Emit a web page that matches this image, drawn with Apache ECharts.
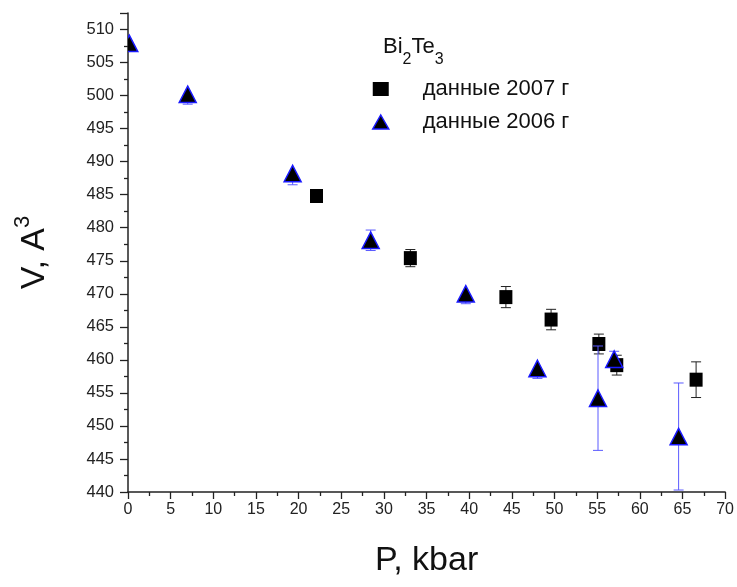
<!DOCTYPE html>
<html>
<head>
<meta charset="utf-8">
<script src="https://cdn.jsdelivr.net/npm/echarts@6/dist/echarts.min.js"></script>
<style>html,body{margin:0;padding:0;background:#fff;}#c{width:737px;height:587px;}</style>
</head>
<body>
<div id="c"></div>
<script>
// ---- data ----
const pressure2007 = [22.1, 33.1, 44.3, 49.6, 55.2, 57.3, 66.6];
const volume2007   = [484.8, 475.4, 469.5, 466.1, 462.4, 459.2, 457.0];
const error2007    = [0.0, 1.3, 1.6, 1.55, 1.5, 1.5, 2.7];

const pressure2006 = [0.15, 7.0, 19.3, 28.45, 39.6, 48.0, 55.1, 57.0, 64.55];
const volume2006   = [507.9, 500.2, 488.2, 478.1, 470.0, 458.7, 454.2, 460.1, 448.4];
const errLow2006   = [1.2, 1.5, 1.7, 1.55, 1.5, 1.5, 7.9, 1.2, 8.1];
const errHigh2006  = [0.0, 0.0, 0.0, 1.55, 0.0, 0.0, 7.9, 1.2, 8.1];

const name2007 = 'данные 2007 г';
const name2006 = 'данные 2006 г';
const xTitle = 'P, kbar';

const FONT = "'Liberation Sans', Arial, sans-serif";

function pts(xs, ys) { return xs.map((x, i) => [x, ys[i]]); }
function errs(xs, ys, lo, hi) { return xs.map((x, i) => [x, ys[i] - lo[i], ys[i] + hi[i], ys[i]]); }

function errRenderer(color, capHalf) {
  return function (params, api) {
    const x = api.value(0), lo = api.value(1), hi = api.value(2), mid = api.value(3);
    const a = api.coord([x, lo]);
    const b = api.coord([x, hi]);
    const m = api.coord([x, mid]);
    const st = { stroke: color, lineWidth: 1 };
    const cs = params.coordSys;
    const children = [];
    if (lo < mid) {
      children.push({ type: 'line', shape: { x1: m[0], y1: m[1], x2: a[0], y2: a[1] }, style: st });
      children.push({ type: 'line', shape: { x1: a[0] - capHalf, y1: a[1], x2: a[0] + capHalf, y2: a[1] }, style: st });
    }
    if (hi > mid) {
      children.push({ type: 'line', shape: { x1: m[0], y1: m[1], x2: b[0], y2: b[1] }, style: st });
      children.push({ type: 'line', shape: { x1: b[0] - capHalf, y1: b[1], x2: b[0] + capHalf, y2: b[1] }, style: st });
    }
    return {
      type: 'group',
      clipPath: { type: 'rect', shape: { x: cs.x, y: cs.y, width: cs.width, height: cs.height } },
      children: children
    };
  };
}

// triangle marker drawn through the axes' scales, clipped by the grid
function triRenderer(params, api) {
  const c = api.coord([api.value(0), api.value(1)]);
  const cs = params.coordSys;
  const hw = 8.5, hh = 8.2;
  return {
    type: 'group',
    clipPath: { type: 'rect', shape: { x: cs.x, y: cs.y, width: cs.width, height: cs.height } },
    children: [{
      type: 'polygon',
      shape: { points: [[c[0], c[1] - hh], [c[0] + hw, c[1] + hh], [c[0] - hw, c[1] + hh]] },
      style: { fill: '#000000', stroke: '#1a1aff', lineWidth: 1.5 }
    }]
  };
}

const chart = echarts.init(document.getElementById('c'), null, { renderer: 'canvas' });

const option = {
  backgroundColor: '#ffffff',
  animation: false,
  textStyle: { fontFamily: FONT },
  grid: { left: 128, right: 11, top: 13, bottom: 95, containLabel: false },
  xAxis: {
    type: 'value', min: 0, max: 70, interval: 5,
    name: xTitle, nameLocation: 'middle', nameGap: 52,
    nameTextStyle: { fontSize: 34, color: '#111', fontFamily: FONT },
    axisLine: { show: true, onZero: false, lineStyle: { color: '#222', width: 1.5 } },
    axisTick: { show: true, inside: false, length: 7, lineStyle: { color: '#222', width: 1.3 } },
    minorTick: { show: true, splitNumber: 2, length: 4, lineStyle: { color: '#222', width: 1.3 } },
    axisLabel: { fontSize: 16, color: '#222', margin: 10, fontFamily: FONT },
    splitLine: { show: false }
  },
  yAxis: {
    type: 'value', min: 440, max: 512.5, interval: 5,
    name: '{a|V, A}{s|3}', nameLocation: 'middle', nameGap: 76, nameRotate: 90,
    nameTextStyle: {
      fontFamily: FONT, color: '#111',
      rich: {
        a: { fontSize: 34, fontFamily: FONT, color: '#111', lineHeight: 40, verticalAlign: 'bottom' },
        s: { fontSize: 22, fontFamily: FONT, color: '#111', lineHeight: 40, verticalAlign: 'top' }
      }
    },
    axisLine: { show: true, onZero: false, lineStyle: { color: '#222', width: 1.5 } },
    axisTick: { show: true, inside: false, length: 8, lineStyle: { color: '#222', width: 1.3 } },
    minorTick: { show: true, splitNumber: 2, length: 4, lineStyle: { color: '#222', width: 1.3 } },
    axisLabel: {
      fontSize: 16.5, color: '#222', margin: 14, fontFamily: FONT,
      formatter: function (v) { return (v % 5 === 0) ? String(v) : ''; }
    },
    splitLine: { show: false }
  },
  legend: {
    orient: 'vertical', left: 367, top: 73, itemGap: 11,
    itemWidth: 16, itemHeight: 14,
    data: [
      { name: name2007, icon: 'rect', itemStyle: { color: '#000000' } },
      { name: name2006, icon: 'triangle', itemStyle: { color: '#000000', borderColor: '#1a1aff', borderWidth: 1.5 } }
    ],
    textStyle: { fontSize: 22, color: '#111', fontFamily: FONT, lineHeight: 22, padding: [0, 0, 0, 29] },
    selectedMode: false
  },
  graphic: [{
    type: 'text', left: 383, top: 36, z: 100,
    style: {
      text: '{n|Bi}{s|2}{n|Te}{s|3}',
      rich: {
        n: { fontSize: 22, fontFamily: FONT, fill: '#111', lineHeight: 32, verticalAlign: 'top' },
        s: { fontSize: 16, fontFamily: FONT, fill: '#111', lineHeight: 32, verticalAlign: 'bottom' }
      }
    }
  }],
  series: [
    {
      type: 'custom', name: 'err2007', z: 2,
      renderItem: errRenderer('#222', 5),
      encode: { x: 0, y: [1, 2] },
      data: errs(pressure2007, volume2007, error2007, error2007),
      silent: true
    },
    {
      type: 'scatter', name: name2007, z: 3, clip: true,
      symbol: 'rect', symbolSize: [13, 14],
      itemStyle: { color: '#000000', opacity: 1 },
      data: pts(pressure2007, volume2007)
    },
    {
      type: 'custom', name: 'err2006', z: 4,
      renderItem: errRenderer('#5a5aff', 5),
      encode: { x: 0, y: [1, 2] },
      data: errs(pressure2006, volume2006, errLow2006, errHigh2006),
      silent: true
    },
    {
      type: 'custom', name: name2006, z: 5,
      renderItem: triRenderer,
      itemStyle: { color: '#000000' },
      encode: { x: 0, y: 1 },
      data: pts(pressure2006, volume2006)
    }
  ]
};

chart.setOption(option);
</script>
</body>
</html>
